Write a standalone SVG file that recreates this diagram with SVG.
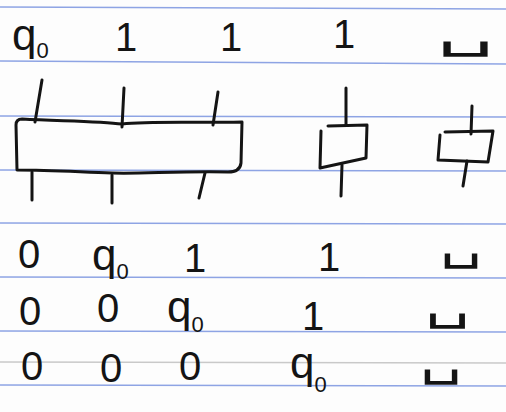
<svg xmlns="http://www.w3.org/2000/svg" width="506" height="412" viewBox="0 0 506 412">
<style>
.rule{stroke:#8ea4e4;stroke-width:1.6;fill:none}
.rule2{stroke:#c9c9c9;stroke-width:1.6;fill:none}
.ink{stroke:#141414;stroke-width:3;fill:none;stroke-linecap:round;stroke-linejoin:round}
.t{font-family:"Liberation Sans","DejaVu Sans",sans-serif;fill:#141414;font-size:40px}
.q{font-size:44px}
.s{font-size:22px}
.b{font-family:"DejaVu Sans",sans-serif;fill:#141414;font-size:46px}
</style>
<rect width="506" height="412" fill="#fdfdfd"/>
<g id="paper">
<line class="rule" x1="0" y1="7" x2="506" y2="9"/>
<line class="rule" x1="0" y1="61" x2="506" y2="64"/>
<line class="rule" x1="0" y1="116" x2="506" y2="117"/>
<line class="rule" x1="0" y1="170" x2="506" y2="171"/>
<line class="rule" x1="0" y1="223" x2="506" y2="224"/>
<line class="rule" x1="0" y1="277" x2="506" y2="278"/>
<line class="rule" x1="0" y1="331" x2="506" y2="332"/>
<line class="rule2" x1="0" y1="362" x2="506" y2="363"/>
<line class="rule" x1="0" y1="385" x2="506" y2="386"/>
</g>
<g id="row1">
<text class="t q" x="12" y="50">q<tspan class="s" dy="8">0</tspan></text>
<text class="t" x="126" y="51" text-anchor="middle">1</text>
<text class="t" x="231" y="51" text-anchor="middle">1</text>
<text class="t" x="344" y="48" text-anchor="middle">1</text>
<text class="b" x="437" y="46" textLength="57" lengthAdjust="spacingAndGlyphs">␣</text>
</g>
<g id="tape">
<path class="ink" d="M22,119 C60,121 100,121 122,124 C150,121 190,123 242,122 L241,163 Q240,172 228,172 C180,171 140,174 112,173 C80,172 50,170 17,170 L16,125 Q16,119 22,119"/>
</g>
<g id="head1">
<path class="ink" d="M328,126 L367,125 L366,158 L320,168 L321,131"/>
</g>
<g id="head2">
<path class="ink" d="M445,132 L493,131 L488,162 L438,160 L440,135"/>
</g>
<g id="connectors">
<line class="ink" x1="42" y1="80" x2="35" y2="122"/>
<line class="ink" x1="124" y1="88" x2="122" y2="127"/>
<line class="ink" x1="218" y1="92" x2="213" y2="125"/>
<line class="ink" x1="32" y1="172" x2="32" y2="200"/>
<line class="ink" x1="112" y1="175" x2="112" y2="203"/>
<line class="ink" x1="205" y1="173" x2="199" y2="198"/>
<line class="ink" x1="346" y1="88" x2="346" y2="125"/>
<line class="ink" x1="342" y1="165" x2="341" y2="196"/>
<line class="ink" x1="472" y1="106" x2="471" y2="134"/>
<line class="ink" x1="467" y1="161" x2="463" y2="186"/>
</g>
<g id="row3">
<text class="t" x="29" y="268" text-anchor="middle">0</text>
<text class="t q" x="92" y="270">q<tspan class="s" dy="9">0</tspan></text>
<text class="t" x="195" y="272" text-anchor="middle">1</text>
<text class="t" x="329" y="271" text-anchor="middle">1</text>
<text class="b" x="440" y="258" textLength="42" lengthAdjust="spacingAndGlyphs">␣</text>
</g>
<g id="row4">
<text class="t" x="30" y="325" text-anchor="middle">0</text>
<text class="t" x="108" y="322" text-anchor="middle">0</text>
<text class="t q" x="167" y="322">q<tspan class="s" dy="10">0</tspan></text>
<text class="t" x="313" y="330" text-anchor="middle">1</text>
<text class="b" x="425" y="318" textLength="45" lengthAdjust="spacingAndGlyphs">␣</text>
</g>
<g id="row5">
<text class="t" x="32" y="380" text-anchor="middle">0</text>
<text class="t" x="111" y="382" text-anchor="middle">0</text>
<text class="t" x="190" y="380" text-anchor="middle">0</text>
<text class="t q" x="290" y="378">q<tspan class="s" dy="14">0</tspan></text>
<text class="b" x="420" y="374" textLength="42" lengthAdjust="spacingAndGlyphs">␣</text>
</g>
</svg>
